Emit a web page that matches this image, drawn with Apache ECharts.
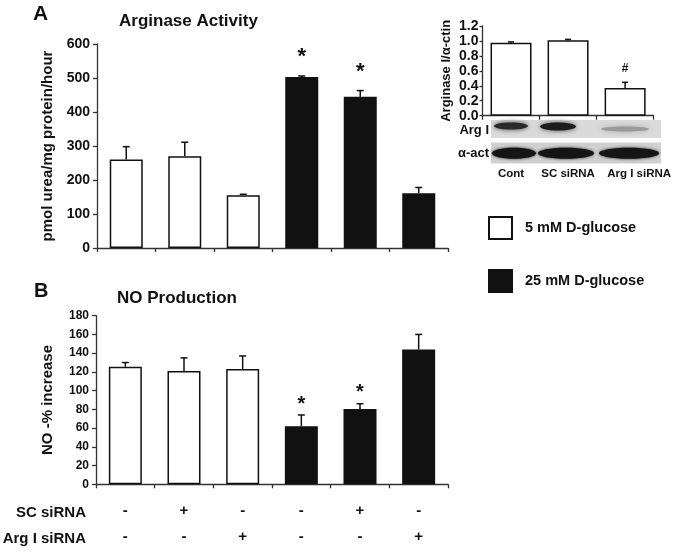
<!DOCTYPE html>
<html><head><meta charset="utf-8">
<script src="https://cdn.jsdelivr.net/npm/echarts@6/dist/echarts.min.js"></script>
<style>html,body{margin:0;padding:0;background:#fff}#c{width:674px;height:554px}</style>
</head><body><div id="c"></div>
<script>
// ---------- data ----------
const categories = ['c1', 'c2', 'c3', 'c4', 'c5', 'c6'];
const glucoseGroup = ['5 mM D-glucose', '5 mM D-glucose', '5 mM D-glucose', '25 mM D-glucose', '25 mM D-glucose', '25 mM D-glucose'];
const seriesNames = ['5 mM D-glucose', '25 mM D-glucose'];
const arginaseValues = [260, 270, 155, 503, 445, 161];
const arginaseErrors = [38, 41, 3, 3, 18, 17];
const arginaseMarks = ['', '', '', '*', '*', ''];
const noValues = [125.5, 121, 123, 62, 80.5, 144];
const noErrors = [4.5, 14, 14, 12, 5.5, 16];
const noMarks = ['', '', '', '*', '*', ''];
const scSiRNA = ['-', '+', '-', '-', '+', '-'];
const argSiRNA = ['-', '-', '+', '-', '-', '+'];
const rowLabels = ['SC siRNA', 'Arg I siRNA'];
const insetCategories = ['Cont', 'SC siRNA', 'Arg I siRNA'];
const insetValues = [0.977, 1.009, 0.37];
const insetErrors = [0.01, 0.012, 0.077];
const insetMarks = ['', '', '#'];
const blotLabels = ['Arg I', '\u03b1-act'];

// ---------- helpers ----------
const FF = '"Liberation Sans", Arial, sans-serif';
const INK = '#111';
function pick(values, group) {
  return values.map((v, i) => glucoseGroup[i] === group ? v : null);
}
function errRender(marks, capW, markSize, markGap) {
  return function (params, api) {
    const x = api.value(0), v = api.value(1), e = api.value(2);
    const p0 = api.coord([x, v]), p1 = api.coord([x, v + e]);
    const ch = [
      { type: 'line', shape: { x1: p0[0], y1: p0[1], x2: p1[0], y2: p1[1] }, style: { stroke: INK, lineWidth: 1.5 } },
      { type: 'line', shape: { x1: p1[0] - capW / 2, y1: p1[1], x2: p1[0] + capW / 2, y2: p1[1] }, style: { stroke: INK, lineWidth: 1.5 } }
    ];
    const m = marks[params.dataIndex];
    if (m) {
      ch.push({ type: 'text', style: { text: m, x: p1[0], y: p1[1] - markGap, align: 'center', verticalAlign: 'middle',
        fontSize: markSize, fontWeight: 'bold', fontFamily: FF, fill: INK } });
    }
    return { type: 'group', children: ch };
  };
}
function errData(values, errs) { return values.map((v, i) => [i, v, errs[i]]); }

const axisLine = { show: true, lineStyle: { color: '#333', width: 1.3 } };
const axisTick = { show: true, length: 4, lineStyle: { color: '#333', width: 1.3 } };

function barSeries(name, data, xi, yi, width) {
  const white = name === seriesNames[0];
  return {
    type: 'bar', name: name, xAxisIndex: xi, yAxisIndex: yi, data: data, barWidth: width, barGap: '-100%',
    itemStyle: { color: white ? '#fff' : INK, borderColor: INK, borderWidth: 1.5 },
    emphasis: { disabled: true }
  };
}

const chart = echarts.init(document.getElementById('c'), null, { renderer: 'canvas' });

const option = {
  animation: false,
  backgroundColor: '#fff',
  textStyle: { fontFamily: FF },
  legend: {
    data: seriesNames, orient: 'vertical', left: 488, top: 216, itemWidth: 23, itemHeight: 22, itemGap: 29,
    icon: 'rect', padding: 0,
    textStyle: { fontSize: 14.5, fontWeight: 'bold', color: INK, fontFamily: FF, padding: [0, 0, 0, 8] }
  },
  grid: [
    { left: 97, right: 226, top: 44, bottom: 306 },
    { left: 96, right: 226, top: 315.7, bottom: 69.7 },
    { left: 482.5, right: 20, top: 26, bottom: 438.3 }
  ],
  xAxis: [
    { type: 'category', gridIndex: 0, data: categories, boundaryGap: true, axisLine: axisLine, axisTick: axisTick, axisLabel: { show: false } },
    { type: 'category', gridIndex: 1, data: categories, boundaryGap: true, axisLine: axisLine, axisTick: axisTick,
      axisLabel: { interval: 0, margin: 14, lineHeight: 26, fontSize: 15, fontWeight: 'bold', color: INK, fontFamily: FF,
        formatter: (v, i) => scSiRNA[i] + '\n' + argSiRNA[i] } },
    { type: 'category', gridIndex: 2,
      data: insetCategories.map((c, i) => i === 2 ? { value: c, textStyle: { padding: [0, 0, 0, 28] } } : c),
      boundaryGap: true, axisLine: axisLine, axisTick: axisTick,
      axisLabel: { interval: 0, margin: 52, fontSize: 11.5, fontWeight: 'bold', color: INK, fontFamily: FF } }
  ],
  yAxis: [
    { type: 'value', gridIndex: 0, min: 0, max: 600, interval: 100, splitLine: { show: false },
      axisLine: axisLine, axisTick: axisTick,
      axisLabel: { margin: 7, fontSize: 14, fontWeight: 'bold', color: INK, fontFamily: FF },
      name: 'pmol urea/mg protein/hour', nameLocation: 'middle', nameGap: 40,
      nameTextStyle: { fontSize: 15, fontWeight: 'bold', color: INK, fontFamily: FF } },
    { type: 'value', gridIndex: 1, min: 0, max: 180, interval: 20, splitLine: { show: false },
      axisLine: axisLine, axisTick: axisTick,
      axisLabel: { margin: 7, fontSize: 12, fontWeight: 'bold', color: INK, fontFamily: FF },
      name: 'NO -% increase', nameLocation: 'middle', nameGap: 41,
      nameTextStyle: { fontSize: 15, fontWeight: 'bold', color: INK, fontFamily: FF } },
    { type: 'value', gridIndex: 2, min: 0, max: 1.2, interval: 0.2, splitLine: { show: false },
      axisLine: axisLine, axisTick: { show: true, length: 3, lineStyle: { color: '#333', width: 1.3 } },
      axisLabel: { margin: 4, fontSize: 14, fontWeight: 'bold', color: INK, fontFamily: FF, formatter: v => v.toFixed(1) },
      name: 'Arginase I/\u03b1-ctin', nameLocation: 'middle', nameGap: 30,
      nameTextStyle: { fontSize: 13, fontWeight: 'bold', color: INK, fontFamily: FF } }
  ],
  series: [
    barSeries(seriesNames[0], pick(arginaseValues, seriesNames[0]), 0, 0, 33),
    barSeries(seriesNames[1], pick(arginaseValues, seriesNames[1]), 0, 0, 33),
    { type: 'custom', xAxisIndex: 0, yAxisIndex: 0, data: errData(arginaseValues, arginaseErrors),
      renderItem: errRender(arginaseMarks, 7, 22, 19), z: 5 },
    barSeries(seriesNames[0], pick(noValues, seriesNames[0]), 1, 1, 33),
    barSeries(seriesNames[1], pick(noValues, seriesNames[1]), 1, 1, 33),
    { type: 'custom', xAxisIndex: 1, yAxisIndex: 1, data: errData(noValues, noErrors),
      renderItem: errRender(noMarks, 7, 20, 11), z: 5 },
    { type: 'bar', name: 'inset', xAxisIndex: 2, yAxisIndex: 2, data: insetValues, barWidth: 41,
      itemStyle: { color: '#fff', borderColor: INK, borderWidth: 1.5 }, emphasis: { disabled: true } },
    { type: 'custom', xAxisIndex: 2, yAxisIndex: 2, data: errData(insetValues, insetErrors),
      renderItem: errRender(insetMarks, 6, 12, 14), z: 5 }
  ],
  graphic: [
    { type: 'text', left: 33, top: 4, style: { text: 'A', fontSize: 21, fontWeight: 'bold', fontFamily: FF, fill: INK } },
    { type: 'text', left: 119, top: 13, style: { text: 'Arginase Activity', fontSize: 17, fontWeight: 'bold', fontFamily: FF, fill: INK } },
    { type: 'text', left: 34, top: 281, style: { text: 'B', fontSize: 20, fontWeight: 'bold', fontFamily: FF, fill: INK } },
    { type: 'text', left: 117, top: 290, style: { text: 'NO Production', fontSize: 17, fontWeight: 'bold', fontFamily: FF, fill: INK } },
    { type: 'text', x: 86, y: 512.7, style: { text: rowLabels[0], align: 'right', verticalAlign: 'middle', fontSize: 15, fontWeight: 'bold', fontFamily: FF, fill: INK } },
    { type: 'text', x: 86, y: 538.7, style: { text: rowLabels[1], align: 'right', verticalAlign: 'middle', fontSize: 15, fontWeight: 'bold', fontFamily: FF, fill: INK } },
    // western blot strips (image content)
    { type: 'rect', shape: { x: 491, y: 120, width: 170, height: 18 }, style: { fill: '#dadada' } },
    { type: 'ellipse', shape: { cx: 511, cy: 126, rx: 17, ry: 3.5 }, style: { fill: '#2a2a2a', shadowBlur: 5, shadowColor: '#444' } },
    { type: 'ellipse', shape: { cx: 558, cy: 126.5, rx: 18, ry: 4 }, style: { fill: '#1c1c1c', shadowBlur: 5, shadowColor: '#444' } },
    { type: 'ellipse', shape: { cx: 625, cy: 129, rx: 24, ry: 2.5 }, style: { fill: '#9a9a9a', shadowBlur: 5, shadowColor: '#aaa' } },
    { type: 'rect', shape: { x: 491, y: 142.5, width: 170, height: 21 }, style: { fill: '#cfcfcf' } },
    { type: 'ellipse', shape: { cx: 514, cy: 153.3, rx: 22, ry: 5.5 }, style: { fill: '#151515', shadowBlur: 3, shadowColor: '#222' } },
    { type: 'ellipse', shape: { cx: 566, cy: 153.3, rx: 28, ry: 5.5 }, style: { fill: '#151515', shadowBlur: 3, shadowColor: '#222' } },
    { type: 'ellipse', shape: { cx: 629, cy: 153.3, rx: 30, ry: 5.5 }, style: { fill: '#151515', shadowBlur: 3, shadowColor: '#222' } },
    { type: 'text', x: 489, y: 130.7, style: { text: blotLabels[0], align: 'right', verticalAlign: 'middle', fontSize: 13, fontWeight: 'bold', fontFamily: FF, fill: INK } },
    { type: 'text', x: 489, y: 153.3, style: { text: blotLabels[1], align: 'right', verticalAlign: 'middle', fontSize: 13, fontWeight: 'bold', fontFamily: FF, fill: INK } }
  ]
};
chart.setOption(option);
</script>
</body></html>
